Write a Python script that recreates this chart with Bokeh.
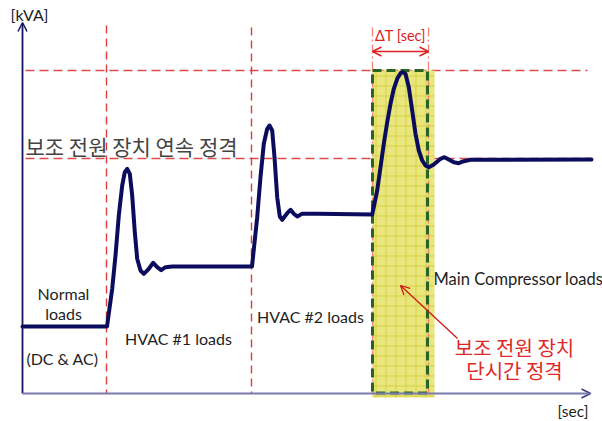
from bokeh.plotting import figure
from bokeh.models import Range1d, Label, Arrow, OpenHead, ColumnDataSource
from bokeh.embed import file_html
from bokeh.resources import INLINE

# ---- data (time in sec, power in kVA, arbitrary schematic units) ----
load_t = [0.0, 8.45, 8.97, 9.3, 9.63, 9.97, 10.23, 10.47, 10.73, 10.97, 11.23, 11.47,
          11.8, 12.13, 12.63, 13.07, 13.47, 13.87, 14.3, 14.97, 22.95,
          23.47, 23.8, 24.13, 24.47, 24.7, 24.97, 25.2, 25.47, 25.73, 25.97, 26.47,
          26.8, 27.13, 27.47, 27.97, 29.47, 34.97,
          35.47, 35.8, 36.13, 36.47, 36.8, 37.13, 37.47, 37.8, 38.07, 38.3, 38.63,
          38.97, 39.3, 39.63, 39.97, 40.3, 40.63, 41.13, 41.8, 42.2, 42.63, 43.13,
          43.63, 44.13, 44.8, 56.9]
load_kva = [6.7, 6.7, 10.47, 13.8, 17.8, 20.8, 22.13, 22.47, 21.97, 19.8, 16.13, 13.47,
            12.3, 11.97, 12.47, 13.07, 12.63, 12.33, 12.63, 12.7, 12.7,
            17.63, 21.63, 24.97, 26.47, 26.8, 26.3, 23.63, 19.63, 17.7, 17.37, 18.03,
            18.37, 17.97, 17.7, 17.97, 17.97, 17.9,
            20.3, 22.63, 24.97, 27.13, 28.97, 30.47, 31.47, 32.03, 32.13, 31.97, 30.63,
            28.3, 25.97, 24.3, 23.3, 22.8, 22.63, 22.9, 23.47, 23.63, 23.4, 23.13,
            23.03, 23.23, 23.37, 23.4]

load_steps = [8.4, 22.9]          # switching instants (HVAC #1, HVAC #2)
comp_start = 35.0                 # main compressor switch-on
dt_end = 40.6                     # end of short-time window
box_end = 41.2                    # yellow window right edge
cont_rating = 23.5                # continuous rating (kVA)
short_rating = 32.3               # short-time rating (kVA)
t_axis_end = 56.8
kva_axis_end = 37.1

p = figure(width=602, height=421, x_range=Range1d(-2.2, 58.0), y_range=Range1d(-2.8, 39.3),
           x_axis_type=None, y_axis_type=None, output_backend="svg",
           toolbar_location=None, min_border=0)
p.grid.visible = False
p.outline_line_color = None
p.background_fill_color = "white"
p.border_fill_color = "white"

RED = "#e04a4a"

# horizontal rating lines
p.segment(x0=[0.3, 0.3], y0=[short_rating, cont_rating], x1=[56.5, 56.8],
          y1=[short_rating, cont_rating], line_color=RED, line_width=1.6, line_dash="9 5")
# vertical load-step lines
p.segment(x0=load_steps, y0=[36.8, 36.6], x1=load_steps, y1=[0, 0],
          line_color="#e03a3a", line_width=1.4, line_dash="8 5")

# yellow short-time window
p.quad(left=[comp_start], right=[box_end], bottom=[-0.4], top=[short_rating],
       fill_color="#e8e67c", line_color=None, hatch_pattern="+", hatch_scale=10,
       hatch_color="#d2cc3a", hatch_alpha=0.8, hatch_weight=1)

# delta-T guide lines
p.segment(x0=[comp_start, dt_end], y0=[36.6, 36.6], x1=[comp_start, dt_end], y1=[0, 0],
          line_color="#ee7060", line_width=1.3, line_dash="9 3 2 3", line_alpha=0.85)

# green dashed rectangle
p.quad(left=[comp_start], right=[dt_end - 0.1], bottom=[0.05], top=[short_rating],
       fill_color=None, line_color="#2a6422", line_width=3, line_dash="9 5")

# load curve
src = ColumnDataSource(dict(t=load_t, kva=load_kva))
p.line("t", "kva", source=src, line_color="#0c0c5e", line_width=4, line_join="round", line_cap="round")

# axes as arrows
p.add_layout(Arrow(end=OpenHead(size=9, line_color="#14145e", line_width=1.5),
                   x_start=0, y_start=0, x_end=0, y_end=kva_axis_end,
                   line_color="#14145e", line_width=1.8))
p.add_layout(Arrow(end=OpenHead(size=9, line_color="#3a3a80", line_width=1.5),
                   x_start=0, y_start=0, x_end=t_axis_end, y_end=0,
                   line_color="#7a7ab0", line_width=1.8))

# delta-T double arrow
p.add_layout(Arrow(start=OpenHead(size=9, line_color="#e02020", line_width=1.4),
                   end=OpenHead(size=9, line_color="#e02020", line_width=1.4),
                   x_start=comp_start, y_start=34.2, x_end=dt_end, y_end=34.2,
                   line_color="#e02020", line_width=1.4))

# annotation arrow
p.add_layout(Arrow(end=OpenHead(size=9, line_color="#d01818", line_width=1.3),
                   x_start=43.5, y_start=5.5, x_end=37.8, y_end=10.8,
                   line_color="#d01818", line_width=1.3))

LAT = "Lato"
TXT = "#1e1e1e"

def lab(x, y, s, size, color=TXT, font=LAT, align="center"):
    p.add_layout(Label(x=x, y=y, text=s, text_font=font, text_font_size=f"{size}px",
                       text_color=color, text_align=align, text_baseline="middle"))

lab(-1.2, 37.9, "[kVA]", 16, align="left")
lab(53.5, -1.7, "[sec]", 15.5, align="left")
lab(4.1, 10.0, "Normal", 16)
lab(4.1, 8.0, "loads", 16)
lab(4.0, 3.5, "(DC & AC)", 16)
lab(15.6, 5.5, "HVAC #1 loads", 16)
lab(28.8, 7.7, "HVAC #2 loads", 16)
lab(41.1, 11.5, "Main Compressor loads", 16.5, align="left")
lab(37.8, 35.8, "ΔT [sec]", 14.5, color="#e02020")

KR = "Noto Sans CJK KR"
lab(0.3, 24.8, "보조 전원 장치 연속 정격", 21, color="#444444", font=KR, align="left")
lab(49.2, 4.6, "보조 전원 장치", 20, color="#e02828", font=KR)
lab(49.2, 2.3, "단시간 정격", 20, color="#e02828", font=KR)

open("out.html", "w").write(file_html(p, INLINE))
